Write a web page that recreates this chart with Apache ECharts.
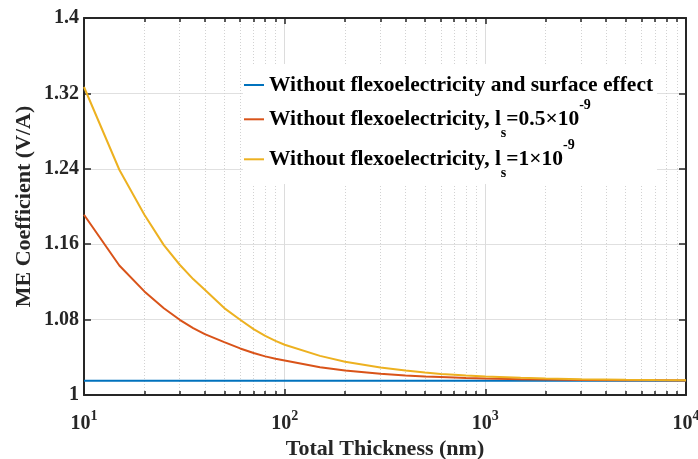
<!DOCTYPE html>
<html>
<head>
<meta charset="utf-8">
<script src="https://cdn.jsdelivr.net/npm/echarts@6/dist/echarts.min.js"></script>
<style>
  html, body { margin: 0; padding: 0; background: #fff; }
  #chart { width: 698px; height: 459px; }
</style>
</head>
<body>
<div id="chart"></div>
<script>
// Total thickness samples (nm)
const thickness = [10, 15, 20, 25, 30, 35, 40, 50, 60, 70, 80, 90, 100, 150, 200, 300, 400, 500,
                   600, 700, 800, 900, 1000, 1500, 2000, 3000, 5000, 7000, 10000];

// ME coefficient (V/A)
const noFlexoNoSurface = [1.0152, 1.0152, 1.0152, 1.0152, 1.0152, 1.0152, 1.0152, 1.0152, 1.0152, 1.0152,
                          1.0152, 1.0152, 1.0152, 1.0152, 1.0152, 1.0152, 1.0152, 1.0152, 1.0152, 1.0152,
                          1.0152, 1.0152, 1.0152, 1.0152, 1.0152, 1.0152, 1.0152, 1.0152, 1.0152];
const noFlexoLs05 = [1.1912, 1.1374, 1.1099, 1.0920, 1.0798, 1.0710, 1.0646, 1.0561, 1.0494, 1.0445,
                     1.0410, 1.0384, 1.0366, 1.0295, 1.0260, 1.0225, 1.0207, 1.0196, 1.0190, 1.0185,
                     1.0181, 1.0179, 1.0176, 1.0168, 1.0164, 1.0160, 1.0157, 1.0156, 1.0155];
const noFlexoLs1 = [1.3268, 1.2390, 1.1912, 1.1590, 1.1382, 1.1230, 1.1116, 1.0922, 1.0798, 1.0699,
                    1.0628, 1.0575, 1.0533, 1.0415, 1.0352, 1.0292, 1.0260, 1.0239, 1.0223, 1.0214,
                    1.0206, 1.0201, 1.0196, 1.0183, 1.0176, 1.0167, 1.0161, 1.0158, 1.0156];

// Axis ticks
const yTicks = [1, 1.08, 1.16, 1.24, 1.32, 1.4];
const xMajorTicks = [10, 100, 1000, 10000];
const xMinorTicks = [20, 30, 40, 50, 60, 70, 80, 90, 200, 300, 400, 500, 600, 700, 800, 900,
                     2000, 3000, 4000, 5000, 6000, 7000, 8000, 9000];

const seriesNames = [
  'Without flexoelectricity and surface effect',
  'Without flexoelectricity, ls=0.5e-9',
  'Without flexoelectricity, ls=1e-9'
];
const legendLabels = [
  'Without flexoelectricity and surface effect',
  'Without flexoelectricity, l{sub|s}=0.5\u00d710{sup|-9}',
  'Without flexoelectricity, l{sub|s}=1\u00d710{sup|-9}'
];
const colors = ['#0072BD', '#D95319', '#EDB120'];
const seriesValues = [noFlexoNoSurface, noFlexoLs05, noFlexoLs1];

const FONT = '"Liberation Serif", "Times New Roman", serif';
const AXIS_COLOR = '#262626';

const chart = echarts.init(document.getElementById('chart'), null, { renderer: 'canvas' });

function logAxis(extra) {
  return Object.assign({
    type: 'log',
    logBase: 10,
    min: 10,
    max: 10000,
    axisLine: { show: true, onZero: false, lineStyle: { color: AXIS_COLOR, width: 2 } },
    axisLabel: { show: false },
    splitLine: { show: false },
    minorTick: { show: false }
  }, extra);
}

const legendTextStyle = {
  fontFamily: FONT,
  fontWeight: 'bold',
  fontSize: 21.5,
  color: '#000',
  rich: {
    sub: { fontFamily: FONT, fontWeight: 'bold', fontSize: 14, color: '#000', verticalAlign: 'bottom', lineHeight: 15 },
    sup: { fontFamily: FONT, fontWeight: 'bold', fontSize: 14, color: '#000', verticalAlign: 'top', lineHeight: 28 }
  }
};
const legendCenters = [85, 119.3, 159.3];
const legendHalf = [12, 21, 21];

const option = {
  animation: false,
  backgroundColor: '#fff',
  grid: { left: 84, right: 12, top: 18, bottom: 64, containLabel: false, outerBoundsMode: 'none' },
  xAxis: [
    logAxis({
      position: 'bottom',
      name: 'Total Thickness (nm)',
      nameLocation: 'middle',
      nameGap: 43,
      nameMoveOverlap: false,
      nameTextStyle: { fontFamily: FONT, fontWeight: 'bold', fontSize: 22, color: '#262626' },
      axisTick: { show: true, inside: true, length: 6, customValues: xMajorTicks,
                  lineStyle: { color: AXIS_COLOR, width: 1.5 } },
      axisLabel: {
        show: true, customValues: xMajorTicks, margin: 14,
        fontFamily: FONT, fontWeight: 'bold', fontSize: 20, color: '#262626', lineHeight: 30,
        formatter: function (v) { return '10{sup|' + Math.round(Math.log10(v)) + '}'; },
        rich: { sup: { fontFamily: FONT, fontWeight: 'bold', fontSize: 14, color: '#262626',
                       verticalAlign: 'top', lineHeight: 15 } }
      },
      splitLine: { show: true, lineStyle: { color: '#dcdcdc', width: 1 } }
    }),
    logAxis({
      position: 'bottom',
      axisLine: { show: false },
      axisTick: { show: true, inside: true, length: 4, customValues: xMinorTicks,
                  lineStyle: { color: AXIS_COLOR, width: 1.5 } },
      splitLine: { show: true, lineStyle: { color: '#d2d2d2', width: 1, type: [1, 2] } }
    }),
    logAxis({
      position: 'top',
      axisTick: { show: true, inside: true, length: 6, customValues: xMajorTicks,
                  lineStyle: { color: AXIS_COLOR, width: 1.5 } }
    }),
    logAxis({
      position: 'top',
      axisLine: { show: false },
      axisTick: { show: true, inside: true, length: 4, customValues: xMinorTicks,
                  lineStyle: { color: AXIS_COLOR, width: 1.5 } }
    })
  ],
  yAxis: [
    {
      type: 'value',
      position: 'left',
      min: 1,
      max: 1.4,
      name: 'ME Coefficient (V/A)',
      nameLocation: 'middle',
      nameGap: 49,
      nameMoveOverlap: false,
      nameTextStyle: { fontFamily: FONT, fontWeight: 'bold', fontSize: 22, color: '#262626' },
      axisLine: { show: true, onZero: false, lineStyle: { color: AXIS_COLOR, width: 2 } },
      axisTick: { show: true, inside: true, length: 7, customValues: yTicks,
                  lineStyle: { color: AXIS_COLOR, width: 1.5 } },
      axisLabel: {
        show: true, customValues: yTicks, margin: 5,
        fontFamily: FONT, fontWeight: 'bold', fontSize: 20, color: '#262626',
        formatter: function (v) { return String(+v.toFixed(2)); }
      },
      splitLine: { show: true, lineStyle: { color: '#e0e0e0', width: 1 } }
    },
    {
      type: 'value',
      position: 'right',
      min: 1,
      max: 1.4,
      axisLine: { show: true, onZero: false, lineStyle: { color: AXIS_COLOR, width: 2 } },
      axisTick: { show: true, inside: true, length: 7, customValues: yTicks,
                  lineStyle: { color: AXIS_COLOR, width: 1.5 } },
      axisLabel: { show: false },
      splitLine: { show: false }
    }
  ],
  graphic: [
    { type: 'rect', z: 5, shape: { x: 243, y: 64, width: 414, height: 120 }, style: { fill: '#fff' } }
  ],
  legend: seriesNames.map(function (name, i) {
    return {
      z: 10,
      data: [name],
      left: 244,
      top: legendCenters[i] - legendHalf[i],
      padding: 0,
      itemWidth: 20,
      itemHeight: 14,
      icon: 'path://M0,6 L20,6 L20,8 L0,8 Z',
      textStyle: Object.assign({}, legendTextStyle, { lineHeight: legendHalf[i] * 2 }),
      formatter: function () { return legendLabels[i]; },
      selectedMode: false
    };
  }),
  series: seriesNames.map(function (name, i) {
    return {
      name: name,
      type: 'line',
      xAxisIndex: 0,
      yAxisIndex: 0,
      showSymbol: false,
      symbol: 'none',
      color: colors[i],
      lineStyle: { color: colors[i], width: 2 },
      data: thickness.map(function (t, k) { return [t, seriesValues[i][k]]; })
    };
  })
};

chart.setOption(option);
</script>
</body>
</html>
